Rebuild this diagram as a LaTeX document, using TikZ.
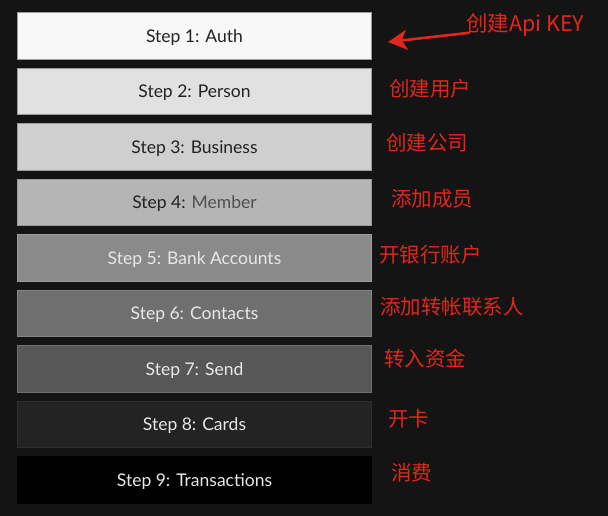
\documentclass[tikz,border=0pt]{standalone}
\usepackage{fontspec}
\setmainfont{Lato}
\newfontfamily\cjk{Noto Sans CJK SC}
\usepackage{xcolor}
\usepackage{tikz}
\usetikzlibrary{arrows.meta, positioning, calc}
\definecolor{bg}{HTML}{141414}
\definecolor{notered}{HTML}{E3261C}
\definecolor{boxline}{HTML}{9A9A9A}
\definecolor{darktext}{HTML}{222222}
\definecolor{lighttext}{HTML}{E8E8E8}
\definecolor{membertext}{HTML}{505050}
\definecolor{s1}{HTML}{F8F8F8}
\definecolor{s2}{HTML}{E1E1E1}
\definecolor{s3}{HTML}{CFCFCF}
\definecolor{s4}{HTML}{B5B5B5}
\definecolor{s5}{HTML}{8A8A8A}
\definecolor{s6}{HTML}{6F6F6F}
\definecolor{s7}{HTML}{575757}
\definecolor{s8}{HTML}{232323}
\definecolor{s9}{HTML}{000000}
\tikzstyle{stepbox} = [rectangle, minimum width=354pt, minimum height=46.5pt, inner sep=0pt, text centered, text depth=0pt, draw=boxline, line width=0.8pt, font=\fontsize{17.5}{20}\selectfont]
\tikzstyle{darkbox} = [stepbox, text=darktext]
\tikzstyle{lightbox} = [stepbox, text=lighttext]
\tikzstyle{note} = [anchor=west, inner sep=0pt, text=notered, font=\cjk\fontsize{20.5}{24}\selectfont]
\tikzstyle{arrow} = [draw=notered, line width=2.6pt, -{Stealth[length=19pt, width=20pt, inset=5pt]}]

\begin{document}
\begin{tikzpicture}[x=1pt, y=-1pt, node distance=55.5pt]

\fill [bg] (0,0) rectangle (608,516);

\node (auth) [darkbox, fill=s1] at (194.5,36) {Step 1: Auth};
\node (person) [darkbox, fill=s2, below of=auth] {Step 2: Person};
\node (business) [darkbox, fill=s3, below of=person] {Step 3: Business};
\node (member) [darkbox, fill=s4, below of=business] {Step 4: \textcolor{membertext}{Member}};
\node (bank) [lightbox, fill=s5, draw=s5!85!white, below of=member] {Step 5: Bank Accounts};
\node (contacts) [lightbox, fill=s6, draw=s6!85!white, below of=bank] {Step 6: Contacts};
\node (send) [lightbox, fill=s7, draw=s7!85!white, below of=contacts] {Step 7: Send};
\node (cards) [lightbox, fill=s8, draw=s8!95!white, below of=send] {Step 8: Cards};
\node (trans) [lightbox, fill=s9, draw=s9, below of=cards] {Step 9: Transactions};

\node (apikey) [note, font=\cjk\fontsize{21.5}{24}\selectfont] at (466,25) {创建Api KEY};
\node (user) [note] at (389,89) {创建用户};
\node (company) [note] at (386,143) {创建公司};
\node (addmember) [note] at (391,199) {添加成员};
\node (account) [note] at (379,255) {开银行账户};
\node (payee) [note] at (380,307) {添加转帐联系人};
\node (fund) [note] at (384,359) {转入资金};
\node (card) [note] at (388,419) {开卡};
\node (spend) [note] at (391,473) {消费};

\coordinate (tip) at (388,42);
\draw [arrow] ([xshift=4pt, yshift=4pt]apikey.south west) -- (tip);

\end{tikzpicture}
\end{document}
